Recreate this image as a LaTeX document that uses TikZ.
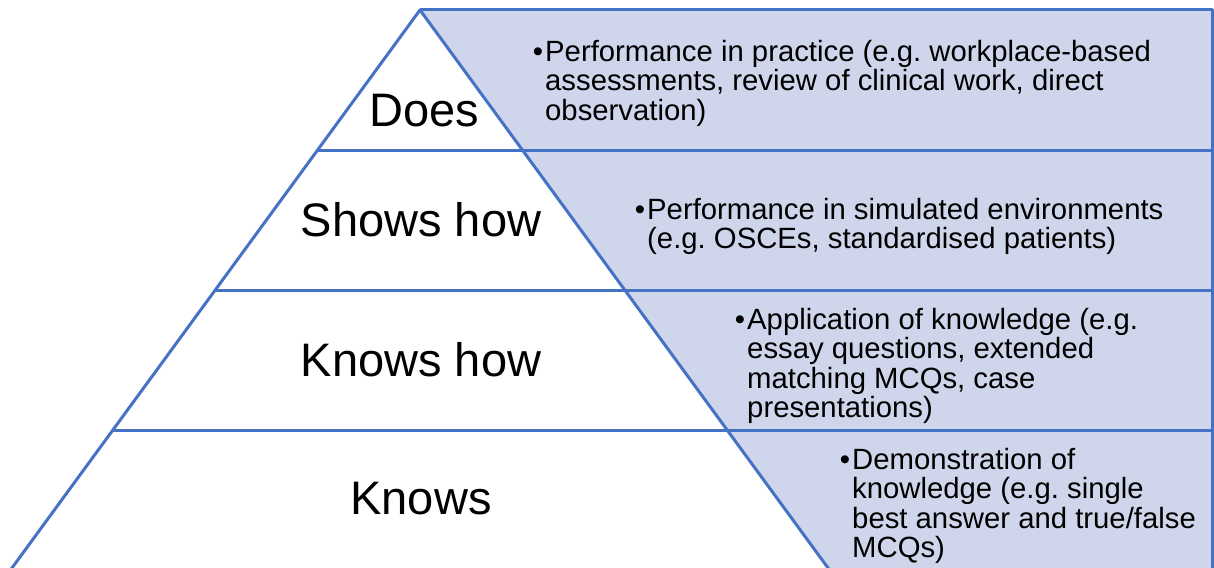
\documentclass[tikz,border=0pt]{standalone}
\usepackage{fontspec}
\setmainfont{Liberation Sans}
\usetikzlibrary{positioning}
\definecolor{pyrline}{RGB}{68,114,196}
\definecolor{pyrfill}{RGB}{207,213,234}
\tikzstyle{edge} = [draw=pyrline,line width=3pt,line join=round]
\frenchspacing

\begin{document}
\begin{tikzpicture} [
    x=1pt,y=-1pt,
    level/.style={inner sep=0pt,font=\fontsize{47}{54}\selectfont},
    note/.style={inner sep=0pt,anchor=north west,align=left,font=\fontsize{29.3}{29.3}\selectfont},
    ]
    \useasboundingbox (0,0) rectangle (1214,567);
    \clip (0,0) rectangle (1214,567);

    \coordinate (A) at (420,10);
    \coordinate (BL) at (10.5,570);
    \coordinate (BR) at (829.5,570);
    \coordinate (TR) at (1212,10);
    \coordinate (RR) at (1212,570);

    % shaded side
    \fill[pyrfill] (A) -- (TR) -- (RR) -- (BR) -- cycle;
    \draw[edge] (BL) -- (A) -- (BR);
    \draw[edge] (A) -- (TR) -- (RR);
    \foreach \y in {150,290,430}
        \draw[edge] (420-0.73125*\y+7.3125,\y) -- (1212,\y);

    \node [level] (does) at (424,111) {Does};
    \node [level] (shows) at (421,219.5) {Shows how};
    \node [level] (knowshow) at (421,360) {Knows how};
    \node [level] (knows) at (421,498.5) {Knows};

    \node [note] (n1) at (545,40) {\llap{•\hspace{2pt}}Performance in practice (e.g. workplace-based\\assessments, review of clinical work, direct\\observation)};
    \node [note] (n2) at (647,198) {\llap{•\hspace{2pt}}Performance in simulated environments\\(e.g. OSCEs, standardised patients)};
    \node [note] (n3) at (747,308) {\llap{•\hspace{2pt}}Application of knowledge (e.g.\\essay questions, extended\\matching MCQs, case\\presentations)};
    \node [note] (n4) at (852,448) {\llap{•\hspace{2pt}}Demonstration of\\knowledge (e.g. single\\best answer and true/false\\MCQs)};
    \end{tikzpicture}
\end{document}
